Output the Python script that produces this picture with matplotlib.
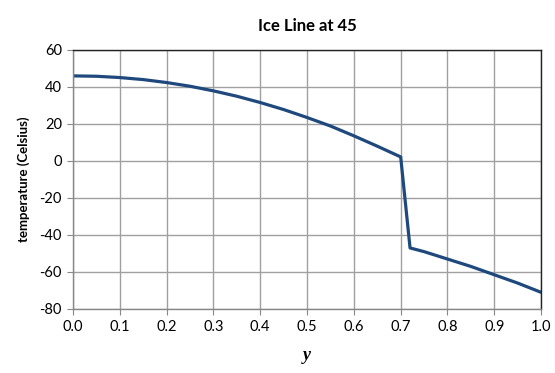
import matplotlib.pyplot as plt

plt.rcParams['axes.unicode_minus'] = False

# values
y_warm = [0.0, 0.05, 0.1, 0.15, 0.2, 0.25, 0.3, 0.35, 0.4, 0.45, 0.5, 0.55, 0.6, 0.65, 0.7]
t_warm = [46.0, 45.8, 45.1, 44.0, 42.4, 40.4, 37.9, 35.0, 31.6, 27.8, 23.5, 18.9, 13.6, 8.0, 2.2]
y_cold = [0.72, 0.75, 0.8, 0.85, 0.9, 0.95, 1.0]
t_cold = [-47.0, -49.0, -53.0, -57.0, -61.5, -66.0, -71.0]

yy = y_warm + y_cold
tt = t_warm + t_cold

fig = plt.figure(figsize=(5.55, 3.73), dpi=100)
ax = fig.add_axes([0.1315, 0.1716, 0.8435, 0.6944])

ax.plot(yy, tt, color='#1f497d', linewidth=2.3, solid_joinstyle='round')

ax.set_xlim(0, 1)
ax.set_ylim(-80, 60)
ax.set_xticks([i / 10 for i in range(11)])
ax.set_xticklabels(['%.1f' % (i / 10) for i in range(11)])
ax.set_yticks(range(-80, 61, 20))
ax.grid(True, color='#a0a0a0', linewidth=1)
ax.set_axisbelow(True)

for s in ['left', 'bottom']:
    ax.spines[s].set_color('#888888')
for s in ['top', 'right']:
    ax.spines[s].set_color('#222222')
for s in ax.spines.values():
    s.set_linewidth(1)

ax.tick_params(direction='out', length=4, color='#888888', labelsize=10.5, pad=4)
for lab in ax.get_xticklabels() + ax.get_yticklabels():
    lab.set_family('Lato')

ax.set_title('Ice Line at 45', fontsize=12, fontweight='bold', family='Lato', pad=14)
ax.set_ylabel('temperature (Celsius)', fontsize=9.5, fontweight='bold', family='Lato', labelpad=7)
ax.set_xlabel('y', fontsize=13, fontweight='bold', style='italic', family='Liberation Serif', labelpad=9)

plt.savefig('out.png', dpi=100)
